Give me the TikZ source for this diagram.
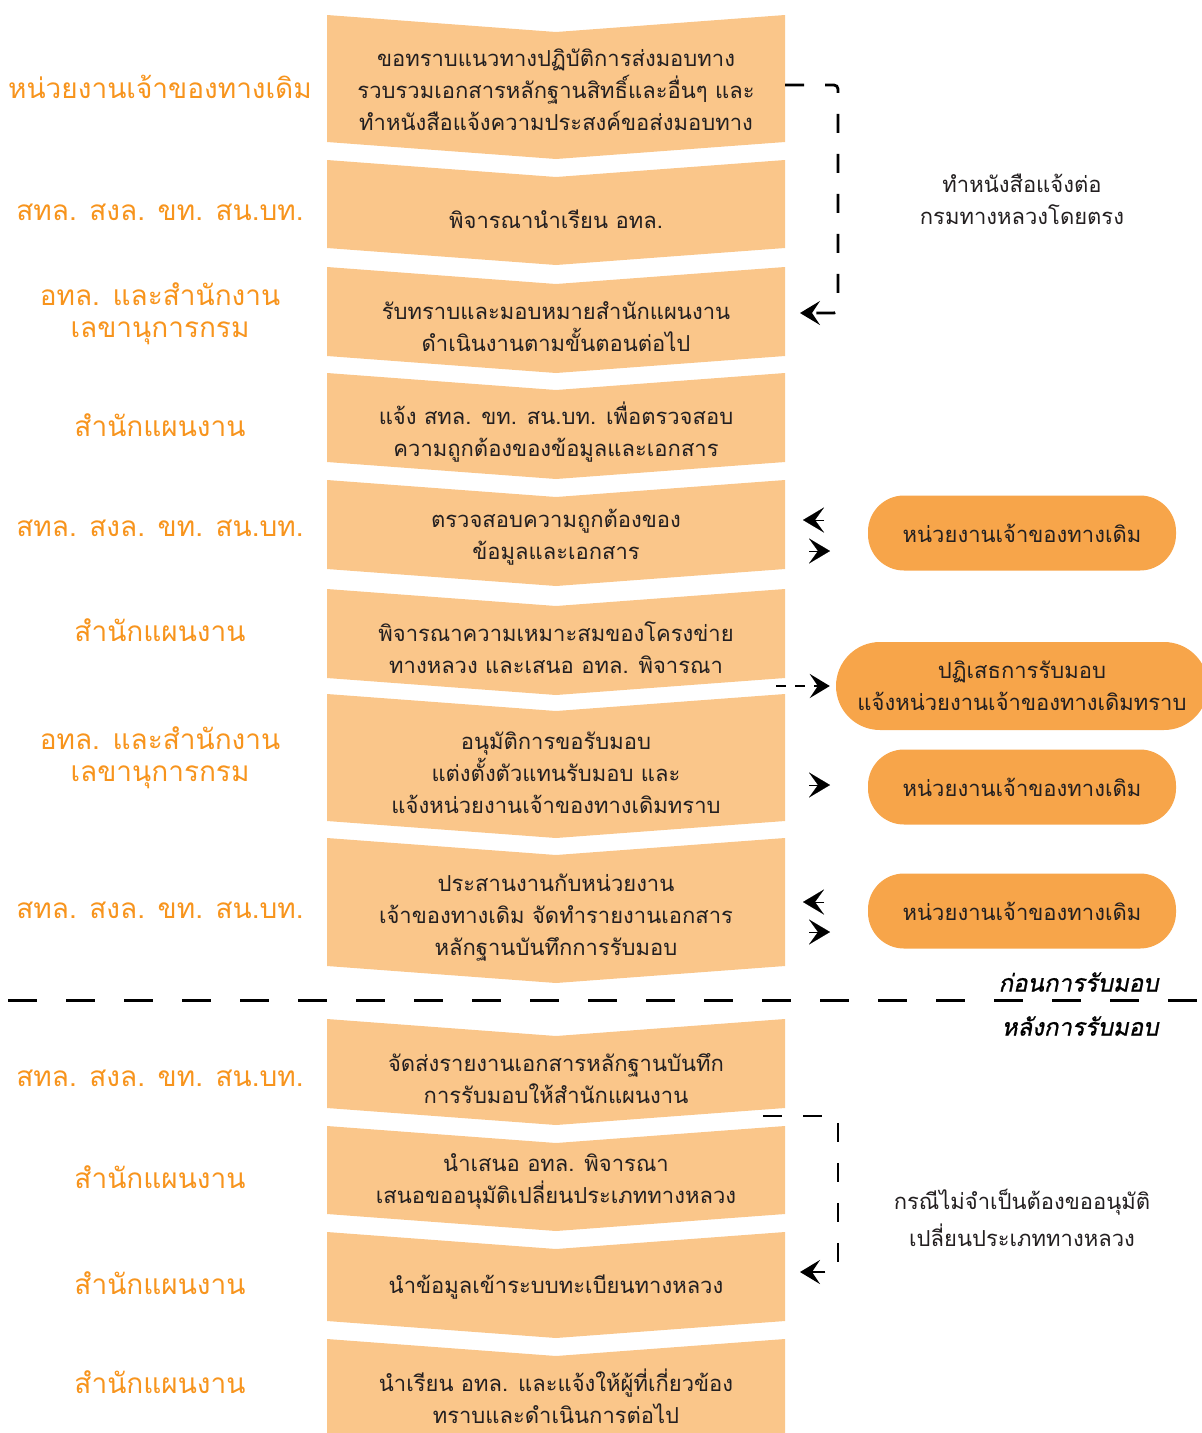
\documentclass[tikz,border=0pt]{standalone}
\usepackage{fontspec}
\setmainfont[Script=Thai]{Loma}
\newfontfamily\slantfont[Script=Thai,FakeSlant=0.2,FakeBold=1]{Loma}
\usetikzlibrary{arrows.meta}
\definecolor{boxfill}{HTML}{FAC68A}
\definecolor{pillfill}{HTML}{F7A54A}
\definecolor{whocolor}{HTML}{F7941D}
\definecolor{txtgray}{HTML}{231F20}
\tikzset{
  boxtxt/.style={align=center, font=\fontsize{22}{32}\selectfont, text=txtgray},
  who/.style={align=center, font=\fontsize{28}{32}\selectfont, text=whocolor},
  pill/.style={fill=pillfill, rounded corners=36pt, minimum width=308pt, minimum height=75pt,
    align=center, font=\fontsize{22}{32}\selectfont, text=txtgray},
  dashlink/.style={dash pattern=on 19pt off 21pt, line width=2.8pt, rounded corners=4pt,
    -{Stealth[length=20pt,width=24pt,inset=8pt]}},
  head/.style={-{Stealth[length=21pt,width=25pt,inset=9pt]}, line width=0.1pt},
}

\begin{document}
\begin{tikzpicture}[x=1pt, y=-1pt]
    \useasboundingbox (0,0) rectangle (1202,1433);
    \clip (0,0) rectangle (1202,1433);
    % chevron steps
    \foreach \t/\b in {15/142, 160/248, 267/356, 373/462, 480/569, 589/678,
        694/821, 838/966, 1019/1108, 1126/1214, 1232/1321, 1339/1445}
      \fill[boxfill] (327,\t) -- (556,\t+17) -- (785,\t) -- (785,\b) -- (556,\b+17) -- (327,\b) -- cycle;

    % step texts
    \node[boxtxt] (b1) at (556,90) {ขอทราบแนวทางปฏิบัติการส่งมอบทาง\\รวบรวมเอกสารหลักฐานสิทธิ์และอื่นๆ และ\\ทำหนังสือแจ้งความประสงค์ขอส่งมอบทาง};
    \node[boxtxt] (b2) at (556,219) {พิจารณานำเรียน อทล.};
    \node[boxtxt] (b3) at (556,327) {รับทราบและมอบหมายสำนักแผนงาน\\ดำเนินงานตามขั้นตอนต่อไป};
    \node[boxtxt] (b4) at (556,432) {แจ้ง สทล. ขท. สน.บท. เพื่อตรวจสอบ\\ความถูกต้องของข้อมูลและเอกสาร};
    \node[boxtxt] (b5) at (556,537) {ตรวจสอบความถูกต้องของ\\ข้อมูลและเอกสาร};
    \node[boxtxt] (b6) at (556,648) {พิจารณาความเหมาะสมของโครงข่าย\\ทางหลวง และเสนอ อทล. พิจารณา};
    \node[boxtxt] (b7) at (556,773) {อนุมัติการขอรับมอบ\\แต่งตั้งตัวแทนรับมอบ และ\\แจ้งหน่วยงานเจ้าของทางเดิมทราบ};
    \node[boxtxt] (b8) at (556,918) {ประสานงานกับหน่วยงาน\\เจ้าของทางเดิม จัดทำรายงานเอกสาร\\หลักฐานบันทึกการรับมอบ};
    \node[boxtxt] (b9) at (556,1079) {จัดส่งรายงานเอกสารหลักฐานบันทึก\\การรับมอบให้สำนักแผนงาน};
    \node[boxtxt] (b10) at (556,1181) {นำเสนอ อทล. พิจารณา\\เสนอขออนุมัติเปลี่ยนประเภททางหลวง};
    \node[boxtxt] (b11) at (556,1287) {นำข้อมูลเข้าระบบทะเบียนทางหลวง};
    \node[boxtxt] (b12) at (556,1396) {นำเรียน อทล. และแจ้งให้ผู้ที่เกี่ยวข้อง\\ทราบและดำเนินการต่อไป};

    % who does it
    \node[who] (l1) at (160,87) {หน่วยงานเจ้าของทางเดิม};
    \node[who] (l2) at (160,212) {สทล. สงล. ขท. สน.บท.};
    \node[who] (l3) at (160,314) {อทล. และสำนักงาน\\เลขานุการกรม};
    \node[who] (l4) at (160,425) {สำนักแผนงาน};
    \node[who] (l5) at (160,528) {สทล. สงล. ขท. สน.บท.};
    \node[who] (l6) at (160,630) {สำนักแผนงาน};
    \node[who] (l7) at (160,758) {อทล. และสำนักงาน\\เลขานุการกรม};
    \node[who] (l8) at (160,910) {สทล. สงล. ขท. สน.บท.};
    \node[who] (l9) at (160,1078) {สทล. สงล. ขท. สน.บท.};
    \node[who] (l10) at (160,1177) {สำนักแผนงาน};
    \node[who] (l11) at (160,1283) {สำนักแผนงาน};
    \node[who] (l12) at (160,1382) {สำนักแผนงาน};

    % owner pills
    \node[pill] (p1) at (1022,533) {หน่วยงานเจ้าของทางเดิม};
    \node[pill, minimum width=372pt, minimum height=88pt, rounded corners=44pt] (p2) at (1022,686) {ปฏิเสธการรับมอบ\\แจ้งหน่วยงานเจ้าของทางเดิมทราบ};
    \node[pill] (p3) at (1022,787) {หน่วยงานเจ้าของทางเดิม};
    \node[pill] (p4) at (1022,911) {หน่วยงานเจ้าของทางเดิม};

    % notes
    \node[boxtxt] (n1) at (1022,199) {ทำหนังสือแจ้งต่อ\\กรมทางหลวงโดยตรง};
    \node[boxtxt, font=\fontsize{22}{37}\selectfont] (n2) at (1022,1218) {กรณีไม่จำเป็นต้องขออนุมัติ\\เปลี่ยนประเภททางหลวง};

    % dashed links
    \coordinate (s1) at (785,85);
    \coordinate (e1) at (800,313);
    \draw[dashlink] (s1) -- (838,85) -- (838,313) -- (e1);
    \coordinate (s2) at (763,1116);
    \coordinate (e2) at (800,1272);
    \draw[dashlink] (s2) -- (838,1116) -- (838,1272) -- (e2);
    \coordinate (s3) at (776,686);
    \draw[dashlink, dash pattern=on 10pt off 9pt, shorten >=6pt] (s3) -- (p2.west);

    % arrow heads to and from the owner
    \draw[head] (824,520) -- (803,520);
    \draw[head] (809,551) -- (830,551);
    \draw[head] (809,785) -- (830,785);
    \draw[head] (824,902) -- (803,902);
    \draw[head] (809,932) -- (830,932);

    % before / after handover
    \draw[dash pattern=on 29pt off 29pt, line width=3pt] (8,1000) -- (1202,1000);
    \node[anchor=east, font=\slantfont\fontsize{24}{28}\selectfont] (before) at (1162,982) {ก่อนการรับมอบ};
    \node[anchor=east, font=\slantfont\fontsize{24}{28}\selectfont] (after) at (1162,1026) {หลังการรับมอบ};
\end{tikzpicture}
\end{document}
